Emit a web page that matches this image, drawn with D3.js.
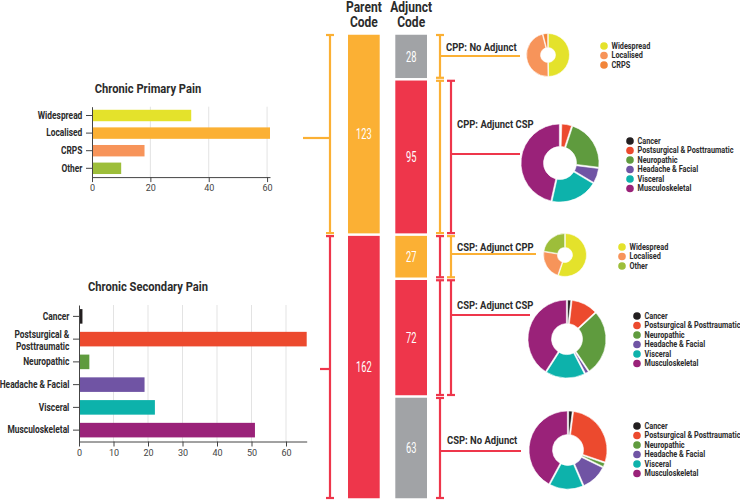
<!DOCTYPE html>
<html lang="en">
<head>
<meta charset="UTF-8">
<title>Chronic Pain Coding</title>
<script src="https://cdn.jsdelivr.net/npm/d3@7"></script>
<style>
  body { margin: 0; background: #fff; }
  svg { font-family: Roboto, "Noto Sans", sans-serif; display: block; }
</style>
</head>
<body>
<script>
// ---- data ----
const cppCategories = ["Widespread", "Localised", "CRPS", "Other"];
const cppValues = [34, 61, 18, 10];

const cspCategories = ["Cancer", "Postsurgical & Posttraumatic", "Neuropathic", "Headache & Facial", "Visceral", "Musculoskeletal"];
const cspValues = [1, 66, 3, 19, 22, 51];

const columnNames = ["Parent Code", "Adjunct Code"];
const parentCodes = ["CPP", "CSP"];
const parentCounts = [123, 162];

const adjunctGroups = ["CPP: No Adjunct", "CPP: Adjunct CSP", "CSP: Adjunct CPP", "CSP: Adjunct CSP", "CSP: No Adjunct"];
const adjunctParent = ["CPP", "CPP", "CSP", "CSP", "CSP"];
const adjunctCode = [null, "CSP", "CPP", "CSP", null];
const adjunctCounts = [28, 95, 27, 72, 63];

// donut breakdowns
const cppNoAdjCats = ["Widespread", "Localised", "CRPS"];
const cppNoAdjValues = [14, 13, 1];
const cppAdjCspValues = [0, 4, 21, 6, 19, 45];     // cspCategories
const cspAdjCppCats = ["Widespread", "Localised", "Other"];
const cspAdjCppValues = [15, 6, 6];
const cspAdjCspValues = [1, 8, 20, 1, 12, 30];     // cspCategories
const cspNoAdjValues = [1, 18, 1, 7, 9, 27];       // cspCategories

const donutCats = [cppNoAdjCats, cspCategories, cspAdjCppCats, cspCategories, cspCategories];
const donutValues = [cppNoAdjValues, cppAdjCspValues, cspAdjCppValues, cspAdjCspValues, cspNoAdjValues];

// ---- styles ----
const codeColor = { CPP: "#FBB034", CSP: "#EE364B", none: "#A1A3A6" };
const barColor = {
  "Widespread": "#E4E22B", "Localised": "#FBB034", "CRPS": "#F7945A", "Other": "#9DBE3A",
  "Cancer": "#231F20", "Postsurgical & Posttraumatic": "#EC4A2E", "Neuropathic": "#5F9B3E",
  "Headache & Facial": "#7054A4", "Visceral": "#0DB2AB", "Musculoskeletal": "#9A2279"
};
const donutColor = Object.assign({}, barColor, { "Localised": "#F7945A", "CRPS": "#F2853A" });

const ink = "#2b2b2b";
const SX = 0.86; // squeeze bold text to look condensed

// positions of the donut panels (layout only)
const donutLayout = [
  { cx: 548, cy: 55,  r: 21.5, ir: 7.5, lx: 446, ly: 51,  connY: 56,  connEnd: 520, legX: 604, legY: 46 },
  { cx: 560, cy: 163, r: 39,   ir: 16.5, lx: 457, ly: 128, connY: 154, connEnd: 520, legX: 630, legY: 141 },
  { cx: 565, cy: 255, r: 21.5, ir: 7.5, lx: 457, ly: 251, connY: 254, connEnd: 536, legX: 622, legY: 247 },
  { cx: 567, cy: 339, r: 39,   ir: 15.5, lx: 457, ly: 309, connY: 315, connEnd: 530, legX: 637, legY: 316 },
  { cx: 568, cy: 450, r: 39,   ir: 15.5, lx: 447, ly: 444, connY: 451, connEnd: 521, legX: 637, legY: 426 }
];

const W = 740, H = 501;
const svg = d3.select("body").append("svg").attr("width", W).attr("height", H);

function boldText(parent, x, y, str, size, anchor) {
  return parent.append("text")
    .attr("transform", `translate(${x},${y}) scale(${SX},1)`)
    .attr("text-anchor", anchor || "start")
    .style("font-size", size + "px")
    .style("font-weight", 700)
    .attr("fill", ink)
    .text(str);
}

// ---- left bar charts ----
function barChart(cats, vals, box) {
  const g = svg.append("g");
  const x = d3.scaleLinear().domain([0, d3.max(vals)]).range([box.left, box.right]);
  const y = d3.scaleBand().domain(cats).range([box.top, box.bottom])
    .paddingInner(box.pad).paddingOuter(box.pad / 2);

  g.append("g").selectAll("line")
    .data(box.ticks.filter(d => d > 0))
    .join("line")
    .attr("x1", d => x(d)).attr("x2", d => x(d))
    .attr("y1", box.top).attr("y2", box.bottom)
    .attr("stroke", "#e3e3e3");

  g.append("g").selectAll("rect")
    .data(cats)
    .join("rect")
    .attr("x", x(0))
    .attr("y", d => y(d))
    .attr("width", (d, i) => x(vals[i]) - x(0))
    .attr("height", y.bandwidth())
    .attr("fill", d => barColor[d]);

  const xAxis = g.append("g")
    .attr("transform", `translate(0,${box.bottom})`)
    .call(d3.axisBottom(x).tickValues(box.ticks).tickSize(5).tickSizeOuter(0));
  xAxis.attr("font-family", null);
  xAxis.selectAll("text").style("font-size", "9px").attr("fill", "#444");

  const yAxis = g.append("g")
    .attr("transform", `translate(${box.left},0)`)
    .call(d3.axisLeft(y).tickSize(6).tickPadding(5.5).tickSizeOuter(0));
  yAxis.attr("font-family", null);
  yAxis.selectAll("text")
    .attr("transform", "scale(0.84,1)")
    .style("font-size", "10px")
    .style("font-weight", 700)
    .attr("fill", ink)
    .each(function(d) {
      if (d.length < 20) return;
      const words = d.split(" ");
      const k = Math.ceil(words.length / 2);
      const t = d3.select(this).text(null).attr("dy", null);
      const xx = t.attr("x");
      t.append("tspan").attr("x", xx).attr("dy", "-0.12em").text(words.slice(0, k).join(" "));
      t.append("tspan").attr("x", xx).attr("dy", "1.24em").text(words.slice(k).join(" "));
    });

  g.selectAll(".domain, .tick line").attr("stroke", "#444");
  boldText(g, 148, box.titleY, box.title, 13, "middle");
}

barChart(cppCategories, cppValues, {
  left: 92, right: 270, top: 106.7, bottom: 177.1, pad: 0.35,
  ticks: [0, 20, 40, 60], title: "Chronic Primary Pain", titleY: 93
});
barChart(cspCategories, cspValues, {
  left: 79, right: 306.7, top: 305, bottom: 441.5, pad: 0.36,
  ticks: [0, 10, 20, 30, 40, 50, 60], title: "Chronic Secondary Pain", titleY: 291
});

// ---- stacked code columns ----
const colX = d3.scaleBand().domain(columnNames).range([348, 427]).paddingInner(0.33).paddingOuter(0);
const colY = d3.scaleLinear().domain([0, d3.sum(parentCounts)]).range([33.5, 499.5]);
const gap = 2.5;

const cols = svg.append("g");
columnNames.forEach(name => {
  const words = name.split(" ");
  const cx = colX(name) + colX.bandwidth() / 2;
  boldText(cols, cx, 11.5, words[0], 14, "middle");
  boldText(cols, cx, 27, words[1], 14, "middle");
});

function stackBlocks(counts, colorOf, colName) {
  const starts = d3.cumsum([0].concat(counts));
  const blocks = counts.map((v, i) => ({ v, i, y0: starts[i], y1: starts[i + 1] }));
  const g = cols.append("g");
  g.selectAll("rect")
    .data(blocks)
    .join("rect")
    .attr("x", colX(colName))
    .attr("y", d => colY(d.y0) + gap / 2)
    .attr("width", colX.bandwidth())
    .attr("height", d => colY(d.y1) - colY(d.y0) - gap)
    .attr("fill", d => colorOf(d.i));
  g.selectAll("text")
    .data(blocks)
    .join("text")
    .attr("transform", d => `translate(${colX(colName) + colX.bandwidth() / 2},${(colY(d.y0) + colY(d.y1)) / 2}) scale(0.62,1)`)
    .attr("text-anchor", "middle")
    .attr("dy", "0.36em")
    .attr("fill", "#fff")
    .style("font-size", "15px")
    .style("font-weight", 400)
    .text(d => d.v);
  return blocks;
}

stackBlocks(parentCounts, i => codeColor[parentCodes[i]], "Parent Code");
stackBlocks(adjunctCounts, i => adjunctCode[i] ? codeColor[adjunctCode[i]] : codeColor.none, "Adjunct Code");

// ---- brackets ----
const lines = svg.append("g").attr("stroke-width", 2.2).attr("fill", "none");

function bracket(x, y0, y1, color) {
  lines.append("line").attr("x1", x).attr("x2", x).attr("y1", y0).attr("y2", y1).attr("stroke", color);
  [y0, y1].forEach(yy => {
    lines.append("line").attr("x1", x - 4).attr("x2", x + 4).attr("y1", yy).attr("y2", yy).attr("stroke", color);
  });
}
function hline(x0, x1, y, color) {
  lines.append("line").attr("x1", x0).attr("x2", x1).attr("y1", y).attr("y2", y).attr("stroke", color);
}

const parentStarts = d3.cumsum([0].concat(parentCounts));
const leftConn = [{ x: 303, y: 138 }, { x: 320, y: 369 }];
parentCodes.forEach((code, i) => {
  bracket(330, colY(parentStarts[i]) + 1.5, colY(parentStarts[i + 1]) - 1.5, codeColor[code]);
  hline(leftConn[i].x, 330, leftConn[i].y, codeColor[code]);
});

// ---- adjunct groups: brackets, labels, donuts, legends ----
const adjStarts = d3.cumsum([0].concat(adjunctCounts));
const pie = d3.pie().sort(null).padAngle(0.03);

adjunctGroups.forEach((name, i) => {
  const L = donutLayout[i];
  const y0 = colY(adjStarts[i]) + 1.5, y1 = colY(adjStarts[i + 1]) - 1.5;
  const parentCol = codeColor[adjunctParent[i]];
  bracket(440, y0, y1, parentCol);
  let connX = 440, connCol = parentCol;
  if (adjunctCode[i]) {
    connCol = codeColor[adjunctCode[i]];
    bracket(451, y0, y1, connCol);
    connX = 451;
  }
  hline(connX, L.connEnd, L.connY, connCol);

  boldText(svg, L.lx, L.ly, name, 11, "start");

  const cats = donutCats[i], vals = donutValues[i];
  const arc = d3.arc().innerRadius(L.ir).outerRadius(L.r);
  svg.append("g")
    .attr("transform", `translate(${L.cx},${L.cy})`)
    .selectAll("path")
    .data(pie(vals))
    .join("path")
    .attr("d", arc)
    .attr("fill", (d, j) => donutColor[cats[j]])
    .attr("stroke", "#fff")
    .attr("stroke-width", 0.6);

  const leg = svg.append("g")
    .attr("transform", `translate(${L.legX},${L.legY})`)
    .selectAll("g")
    .data(cats)
    .join("g")
    .attr("transform", (d, j) => `translate(0,${j * 9.5})`);
  leg.append("circle").attr("r", 3.8).attr("fill", d => donutColor[d]);
  leg.append("text")
    .attr("transform", `translate(7.5,0) scale(${SX},1)`)
    .attr("dy", "0.35em")
    .style("font-size", "8.5px")
    .style("font-weight", 700)
    .attr("fill", ink)
    .text(d => d);
});
</script>
</body>
</html>
